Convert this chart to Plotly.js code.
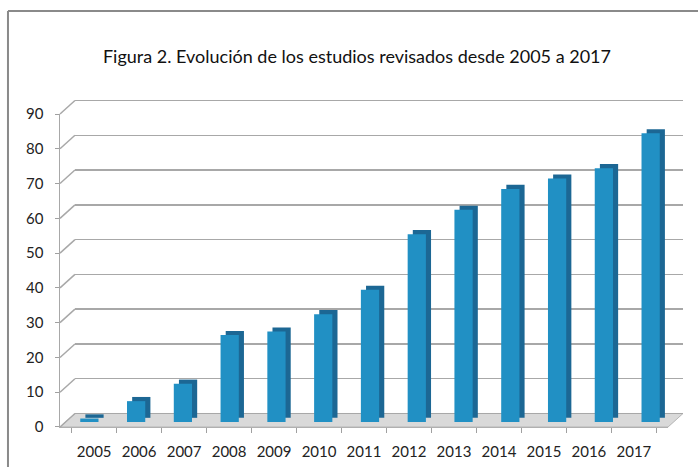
<!DOCTYPE html>
<html>
<head>
<meta charset="utf-8">
<script src="https://cdn.plot.ly/plotly-3.0.1.min.js"></script>
<style>html,body{margin:0;padding:0;background:#fff;}#chart{width:698px;height:467px;}</style>
</head>
<body>
<div id="chart"></div>
<script>
const years = ['2005','2006','2007','2008','2009','2010','2011','2012','2013','2014','2015','2016','2017'];
const studies = [1, 6, 11, 25, 26, 31, 38, 54, 61, 67, 70, 73, 83];
const yTicks = [0, 10, 20, 30, 40, 50, 60, 70, 80, 90];
const titleText = 'Figura 2. Evolución de los estudios revisados desde 2005 a 2017';

// geometry of the pseudo-3D frame (paper fractions, plot area 623x331)
const frontTop = 0.9456, frontRight = 0.976;
const backLeft = 0.024, backFloor = 0.0408;
const backDomain = [0.0355, 0.9917], backRange = [-0.5, 90.5];
const yMax = 90;

const traces = [
  {type:'scatter', x:years, y:studies, mode:'markers', marker:{opacity:0}, xaxis:'x', yaxis:'y', showlegend:false, hoverinfo:'skip'},
  {type:'scatter', x:[], y:[], xaxis:'x2', yaxis:'y2', showlegend:false, hoverinfo:'skip'},
  {type:'bar', x:years, y:studies, base:1.2, width:0.39, offset:-0.085,
   marker:{color:'#1c6794', line:{width:0}}, xaxis:'x3', yaxis:'y3', showlegend:false, hoverinfo:'skip'},
  {type:'bar', x:years, y:studies, width:0.39, offset:-0.195,
   marker:{color:'#2190c4', line:{width:0}}, xaxis:'x3', yaxis:'y3', showlegend:false, hoverinfo:'skip'}
];

const shapes = [];
// outer frame (cropped border)
shapes.push({type:'line', xref:'paper', yref:'paper', x0:-0.0835, x1:-0.0835, y0:1.2568, y1:-0.4, line:{color:'#8a8a8a', width:2}});
shapes.push({type:'line', xref:'paper', yref:'paper', x0:-0.0835, x1:1.2, y0:1.2568, y1:1.2568, line:{color:'#8a8a8a', width:2}});
// floor
shapes.push({type:'path', xref:'paper', yref:'paper', layer:'below',
  path:`M 0,0 L ${frontRight},0 L 1,${backFloor} L ${backLeft},${backFloor} Z`,
  fillcolor:'#d9d9d9', line:{color:'#b5b5b5', width:1}});
// diagonal connectors on left wall
yTicks.forEach(v => {
  const yf = v / yMax * frontTop;
  const yb = backDomain[0] + (v - backRange[0]) / (backRange[1] - backRange[0]) * (backDomain[1] - backDomain[0]);
  shapes.push({type:'line', xref:'paper', yref:'paper', x0:0, x1:backLeft, y0:yf, y1:yb,
    line:{color:'#a8a8a8', width:1.5}});
});

const tickFont = {family:'Lato, "Open Sans", sans-serif', size:15, color:'#222'};

const layout = {
  width:698, height:467,
  margin:{l:60, r:15, t:96, b:40},
  paper_bgcolor:'#fff', plot_bgcolor:'rgba(0,0,0,0)',
  barmode:'overlay',
  title:{text:titleText, font:{family:'Lato, "Open Sans", sans-serif', size:18, color:'#111'},
         xref:'paper', x:0.4767, xanchor:'center', yref:'container', y:0.878, yanchor:'middle'},
  xaxis:{domain:[0, frontRight], anchor:'y', type:'category', tickson:'boundaries', ticks:'outside',
         ticklen:5, tickcolor:'#a0a0a0', showline:true, linecolor:'#b0b0b0', linewidth:1,
         showgrid:false, zeroline:false, tickfont:tickFont, ticklabelstandoff:11, fixedrange:true},
  yaxis:{domain:[0, frontTop], anchor:'x', range:[0, yMax], tickvals:yTicks, ticks:'outside', ticklen:4,
         tickcolor:'#a0a0a0', showline:true, linecolor:'#a8a8a8', linewidth:1.5, showgrid:false,
         zeroline:false, tickfont:tickFont, ticklabelstandoff:8, fixedrange:true},
  xaxis2:{domain:[backLeft, 1], anchor:'y2', range:[0,1], showgrid:false, zeroline:false,
          showticklabels:false, ticks:'', showline:false, fixedrange:true},
  yaxis2:{domain:backDomain, anchor:'x2', range:backRange, tickvals:yTicks,
          showgrid:true, gridcolor:'#a8a8a8', gridwidth:1.5, zeroline:false, showticklabels:false,
          ticks:'', showline:false, fixedrange:true},
  xaxis3:{domain:[0.0096, 0.9856], anchor:'y3', type:'category', visible:false, fixedrange:true},
  yaxis3:{domain:[0.0151, 0.9607], anchor:'x3', range:[0, yMax], visible:false, fixedrange:true},
  shapes:shapes
};

Plotly.newPlot('chart', traces, layout, {displayModeBar:false, staticPlot:true});
</script>
</body>
</html>
